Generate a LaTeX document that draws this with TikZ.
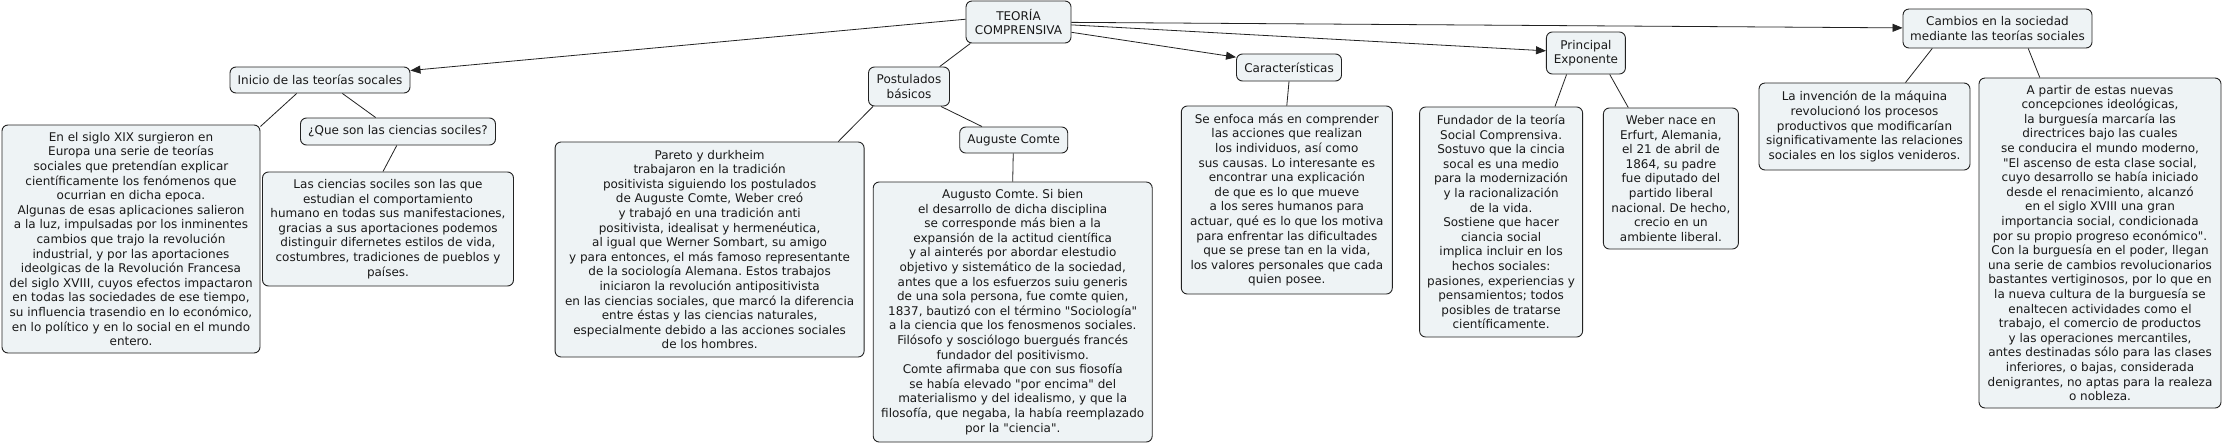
\documentclass[tikz,border=0pt]{standalone}
\usepackage{fontspec}
\setmainfont{DejaVu Sans}[Ligatures=TeXOff]
\usetikzlibrary{arrows.meta}
\definecolor{boxfill}{HTML}{EEF3F5}
\definecolor{edge}{HTML}{222222}
\frenchspacing
\begin{document}
\begin{tikzpicture}[x=1pt,y=-1pt,
  box/.style={draw=edge, fill=boxfill, rounded corners=6pt, line width=0.9pt,
    align=center, inner sep=2pt, text=black!90,
    font=\fontsize{12}{14.6}\selectfont},
  link/.style={draw=edge, line width=0.8pt},
  arr/.style={link, -{Triangle[length=10pt,width=8pt]}}]
\useasboundingbox (0,0) rectangle (2222,445);
\fill[white] (0,0) rectangle (2222,445);

% top
\node[box, minimum width=105pt, minimum height=42pt] (teoria) at (1018.5,22) {TEORÍA\\COMPRENSIVA};

% left branch
\node[box, minimum width=180pt, minimum height=26pt] (inicio) at (320,80) {Inicio de las teorías socales};
\node[box, minimum width=258pt, minimum height=228pt] (left1) at (131,239) {En el siglo XIX surgieron en\\Europa una serie de teorías\\sociales que pretendían explicar\\científicamente los fenómenos que\\ocurrian en dicha epoca.\\Algunas de esas aplicaciones salieron\\a la luz, impulsadas por los inminentes\\cambios que trajo la revolución\\industrial, y por las aportaciones\\ideolgicas de la Revolución Francesa\\del siglo XVIII, cuyos efectos impactaron\\en todas las sociedades de ese tiempo,\\su influencia trasendio en lo económico,\\en lo político y en lo social en el mundo\\entero.};
\node[box, minimum width=195pt, minimum height=27pt] (que) at (398,131.5) {¿Que son las ciencias sociles?};
\node[box, minimum width=251pt, minimum height=114pt] (las) at (388,229) {Las ciencias sociles son las que\\estudian el comportamiento\\humano en todas sus manifestaciones,\\gracias a sus aportaciones podemos\\distinguir difernetes estilos de vida,\\costumbres, tradiciones de pueblos y\\países.};

% postulados
\node[box, minimum width=81pt, minimum height=39pt] (post) at (909,86.5) {Postulados\\básicos};
\node[box, minimum width=309pt, minimum height=215pt] (pareto) at (709.6,249.5) {Pareto y durkheim\\trabajaron en la tradición\\positivista siguiendo los postulados\\de Auguste Comte, Weber creó\\y trabajó en una tradición anti\\positivista, idealisat y hermenéutica,\\al igual que Werner Sombart, su amigo\\y para entonces, el más famoso representante\\de la sociología Alemana. Estos trabajos\\iniciaron la revolución antipositivista\\en las ciencias sociales, que marcó la diferencia\\entre éstas y las ciencias naturales,\\especialmente debido a las acciones sociales\\de los hombres.};
\node[box, minimum width=108pt, minimum height=26pt] (auguste) at (1013.7,140) {Auguste Comte};
\node[box, minimum width=279pt, minimum height=260pt] (augusto) at (1012.7,312) {Augusto Comte. Si bien\\el desarrollo de dicha disciplina\\se corresponde más bien a la\\expansión de la actitud científica\\y al ainterés por abordar elestudio\\objetivo y sistemático de la sociedad,\\antes que a los esfuerzos suiu generis\\de una sola persona, fue comte quien,\\1837, bautizó con el término "Sociología"\\a la ciencia que los fenosmenos sociales.\\Filósofo y sosciólogo buergués francés\\fundador del positivismo.\\Comte afirmaba que con sus fiosofía\\se había elevado "por encima" del\\materialismo y del idealismo, y que la\\filosofía, que negaba, la había reemplazado\\por la "ciencia".};

% caracteristicas
\node[box, minimum width=105pt, minimum height=27pt] (carac) at (1289,67.5) {Características};
\node[box, minimum width=211pt, minimum height=188pt] (caracbox) at (1286.8,200) {Se enfoca más en comprender\\las acciones que realizan\\los individuos, así como\\sus causas. Lo interesante es\\encontrar una explicación\\de que es lo que mueve\\a los seres humanos para\\actuar, qué es lo que los motiva\\para enfrentar las dificultades\\que se prese tan en la vida,\\los valores personales que cada\\quien posee.};

% principal exponente
\node[box, minimum width=79pt, minimum height=42pt] (principal) at (1585.9,53) {Principal\\Exponente};
\node[box, minimum width=163pt, minimum height=230pt] (fundador) at (1501.1,222) {Fundador de la teoría\\Social Comprensiva.\\Sostuvo que la cincia\\socal es una medio\\para la modernización\\y la racionalización\\de la vida.\\Sostiene que hacer\\ciancia social\\implica incluir en los\\hechos sociales:\\pasiones, experiencias y\\pensamientos; todos\\posibles de tratarse\\científicamente.};
\node[box, minimum width=135pt, minimum height=141pt] (weber) at (1670.9,178.5) {Weber nace en\\Erfurt, Alemania,\\el 21 de abril de\\1864, su padre\\fue diputado del\\partido liberal\\nacional. De hecho,\\crecio en un\\ambiente liberal.};

% cambios
\node[box, minimum width=189pt, minimum height=39pt] (cambios) at (1997.5,28.5) {Cambios en la sociedad\\mediante las teorías sociales};
\node[box, minimum width=211pt, minimum height=87pt] (invencion) at (1864.5,126.5) {La invención de la máquina\\revolucionó los procesos\\productivos que modificarían\\significativamente las relaciones\\sociales en los siglos venideros.};
\node[box, minimum width=242pt, minimum height=330pt] (apartir) at (2100,243) {A partir de estas nuevas\\concepciones ideológicas,\\la burguesía marcaría las\\directrices bajo las cuales\\se conducira el mundo moderno,\\"El ascenso de esta clase social,\\cuyo desarrollo se había iniciado\\desde el renacimiento, alcanzó\\en el siglo XVIII una gran\\importancia social, condicionada\\por su propio progreso económico".\\Con la burguesía en el poder, llegan\\una serie de cambios revolucionarios\\bastantes vertiginosos, por lo que en\\la nueva cultura de la burguesía se\\enaltecen actividades como el\\trabajo, el comercio de productos\\y las operaciones mercantiles,\\antes destinadas sólo para las clases\\inferiores, o bajas, considerada\\denigrantes, no aptas para la realeza\\o nobleza.};

% connectors
\draw[arr] (teoria.177) -- (inicio.6);
\draw[arr] (teoria.349) -- (carac.169);
\draw[arr] (teoria) -- (principal);
\draw[arr] (teoria) -- (cambios);
\draw[link] (teoria.204) -- (post.33);
\draw[link] (inicio.210) -- (left1.41);
\draw[link] (inicio.329) -- (que.148);
\draw[link] (que.265) -- (las.95);
\draw[link] (post.209) -- (pareto.40);
\draw[link] (post.328) -- (auguste.157);
\draw[link] (auguste.268) -- (augusto.90);
\draw[link] (carac.270) -- (caracbox.90);
\draw[link] (principal.228) -- (fundador.65);
\draw[link] (principal.318) -- (weber.121);
\draw[link] (cambios.197) -- (invencion.47);
\draw[link] (cambios.327) -- (apartir.110);
\end{tikzpicture}
\end{document}
